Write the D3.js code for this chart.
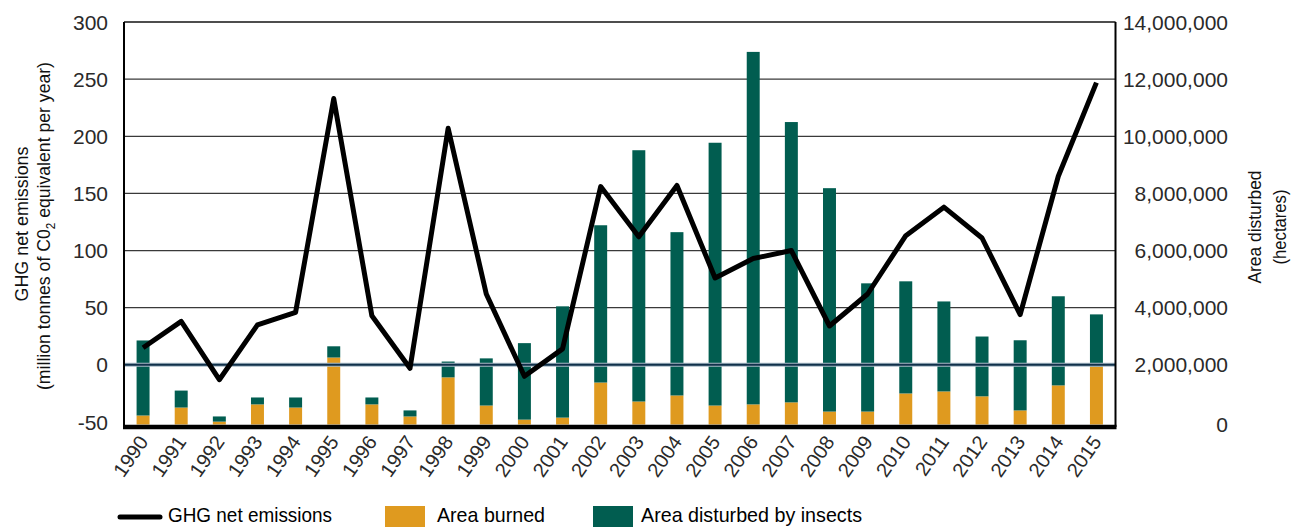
<!DOCTYPE html>
<html><head><meta charset="utf-8">
<script src="https://cdn.jsdelivr.net/npm/d3@7"></script>
<style>body{margin:0;background:#fff} svg{display:block;font-family:"Liberation Sans",Arial,sans-serif}</style>
</head><body><svg id="c" width="1296" height="527"></svg>
<script>
const years = ["1990","1991","1992","1993","1994","1995","1996","1997","1998","1999","2000","2001","2002","2003","2004","2005","2006","2007","2008","2009","2010","2011","2012","2013","2014","2015"];
const ghgEmissions = [15,38,-13,35,46,233,43,-3,207,62,-10,14,156,112,157,76,93,100,34,62,113,138,111,44,165,247];
const areaBurned = [313000,590000,100000,700000,590000,2330000,700000,280000,1640000,660000,170000,240000,1460000,800000,1010000,660000,700000,770000,450000,450000,1080000,1150000,980000,490000,1360000,2020000];
const areaInsects = [2610000,590000,180000,240000,350000,390000,240000,210000,550000,1640000,2660000,3870000,5470000,8740000,5680000,9140000,12260000,9750000,7770000,4460000,3900000,3130000,2080000,2440000,3100000,1810000];
const leftTicks = [-50,0,50,100,150,200,250,300];
const rightTicks = [0,2000000,4000000,6000000,8000000,10000000,12000000,14000000];
const legendLabels = ["GHG net emissions","Area burned","Area disturbed by insects"];

const svg = d3.select("#c");
const X0 = 124, X1 = 1115.5, TOP = 22, BOT = 422, BARBOT = 424.5;
const cOrange = "#df9a1f", cGreen = "#015d50", txt = "#2a2a2a";

const x = d3.scaleBand().domain(years).range([X0, X1]).paddingInner(0.66).paddingOuter(0.33);
const yL = d3.scaleLinear().domain([-50, 300]).range([BOT, TOP]);
const yR = d3.scaleLinear().domain([0, 14000000]).range([BARBOT, TOP]);
const yRlab = d3.scaleLinear().domain([0, 14000000]).range([BOT, TOP]);

// gridlines
svg.append("g").selectAll("line").data(leftTicks.filter(d => d > 0))
  .join("line").attr("x1", X0).attr("x2", X1)
  .attr("y1", d => yL(d)).attr("y2", d => yL(d))
  .attr("stroke", "#3a3a3a").attr("stroke-width", 1.2);

// bars
const stack = d3.stack().keys(["burned", "insects"])(years.map((y, i) => ({year: y, burned: areaBurned[i], insects: areaInsects[i]})));
const colors = {burned: cOrange, insects: cGreen};
svg.append("g").selectAll("g").data(stack).join("g").attr("fill", d => colors[d.key])
  .selectAll("rect").data(d => d).join("rect")
  .attr("x", d => x(d.data.year)).attr("width", x.bandwidth())
  .attr("y", d => yR(d[1])).attr("height", d => yR(d[0]) - yR(d[1]));

// zero line
svg.append("line").attr("x1", X0).attr("x2", X1).attr("y1", yL(0)).attr("y2", yL(0))
  .attr("stroke", "#a7bac6").attr("stroke-width", 4);
svg.append("line").attr("x1", X0).attr("x2", X1).attr("y1", yL(0)).attr("y2", yL(0))
  .attr("stroke", "#10304a").attr("stroke-width", 2);

// line
const line = d3.line().x((d, i) => x(years[i]) + x.bandwidth() / 2).y(d => yL(d));
svg.append("path").datum(ghgEmissions).attr("d", line).attr("fill", "none")
  .attr("stroke", "#000").attr("stroke-width", 5).attr("stroke-linejoin", "round");

// frame
svg.append("line").attr("x1", X0).attr("x2", X0).attr("y1", TOP).attr("y2", 427).attr("stroke", "#000").attr("stroke-width", 2);
svg.append("line").attr("x1", X1).attr("x2", X1).attr("y1", TOP).attr("y2", 427).attr("stroke", "#000").attr("stroke-width", 2);
svg.append("line").attr("x1", X0).attr("x2", X1).attr("y1", TOP).attr("y2", TOP).attr("stroke", "#000").attr("stroke-width", 1.2);
svg.append("line").attr("x1", X0 - 1).attr("x2", X1 + 1).attr("y1", 427).attr("y2", 427).attr("stroke", "#000").attr("stroke-width", 4.5);

// left tick labels
svg.append("g").selectAll("text").data(leftTicks).join("text")
  .attr("x", 108).attr("y", d => yL(d)).attr("dy", "0.36em").attr("text-anchor", "end")
  .attr("font-size", 21).attr("fill", txt).text(d => d);
// right tick labels
const fmt = d3.format(",");
svg.append("g").selectAll("text").data(rightTicks).join("text")
  .attr("x", 1228).attr("y", d => d === 0 ? 424 : yRlab(d)).attr("dy", "0.36em").attr("text-anchor", "end")
  .attr("font-size", 21).attr("fill", txt).text(d => fmt(d));

// x labels
svg.append("g").selectAll("text").data(years).join("text")
  .attr("text-anchor", "end").attr("font-size", 20).attr("fill", txt)
  .attr("transform", d => `translate(${x(d) + x.bandwidth() / 2 + 6},${442}) rotate(-55)`)
  .text(d => d);

// axis titles
const lt = svg.append("g").attr("font-size", 18).attr("fill", "#111");
lt.append("text").attr("text-anchor", "middle").attr("transform", "translate(22,224) rotate(-90)").attr("dy", "0.35em")
  .attr("textLength", 155).attr("lengthAdjust", "spacingAndGlyphs").text("GHG net emissions");
const t2 = lt.append("text").attr("text-anchor", "middle").attr("transform", "translate(44,226) rotate(-90)").attr("dy", "0.35em")
  .attr("textLength", 328).attr("lengthAdjust", "spacingAndGlyphs");
t2.append("tspan").text("(million tonnes of C0");
t2.append("tspan").attr("font-size", 12).attr("dy", 5).text("2");
t2.append("tspan").attr("dy", -5).text(" equivalent per year)");
lt.append("text").attr("text-anchor", "middle").attr("transform", "translate(1255,227) rotate(-90)").attr("dy", "0.35em")
  .attr("textLength", 113).attr("lengthAdjust", "spacingAndGlyphs").text("Area disturbed");
lt.append("text").attr("text-anchor", "middle").attr("transform", "translate(1280,227) rotate(-90)").attr("dy", "0.35em")
  .attr("textLength", 75).attr("lengthAdjust", "spacingAndGlyphs").text("(hectares)");

// legend
const lg = svg.append("g").attr("font-size", 21).attr("fill", "#000");
lg.append("line").attr("x1", 120).attr("x2", 160).attr("y1", 517).attr("y2", 517).attr("stroke", "#000").attr("stroke-width", 5).attr("stroke-linecap", "round");
lg.append("text").attr("x", 168).attr("y", 522).attr("textLength", 164).attr("lengthAdjust", "spacingAndGlyphs").text(legendLabels[0]);
lg.append("rect").attr("x", 385).attr("y", 506).attr("width", 40).attr("height", 22).attr("fill", cOrange);
lg.append("text").attr("x", 437).attr("y", 522).attr("textLength", 108).attr("lengthAdjust", "spacingAndGlyphs").text(legendLabels[1]);
lg.append("rect").attr("x", 593).attr("y", 506).attr("width", 40).attr("height", 22).attr("fill", cGreen);
lg.append("text").attr("x", 641).attr("y", 522).attr("textLength", 221).attr("lengthAdjust", "spacingAndGlyphs").text(legendLabels[2]);
</script></body></html>
